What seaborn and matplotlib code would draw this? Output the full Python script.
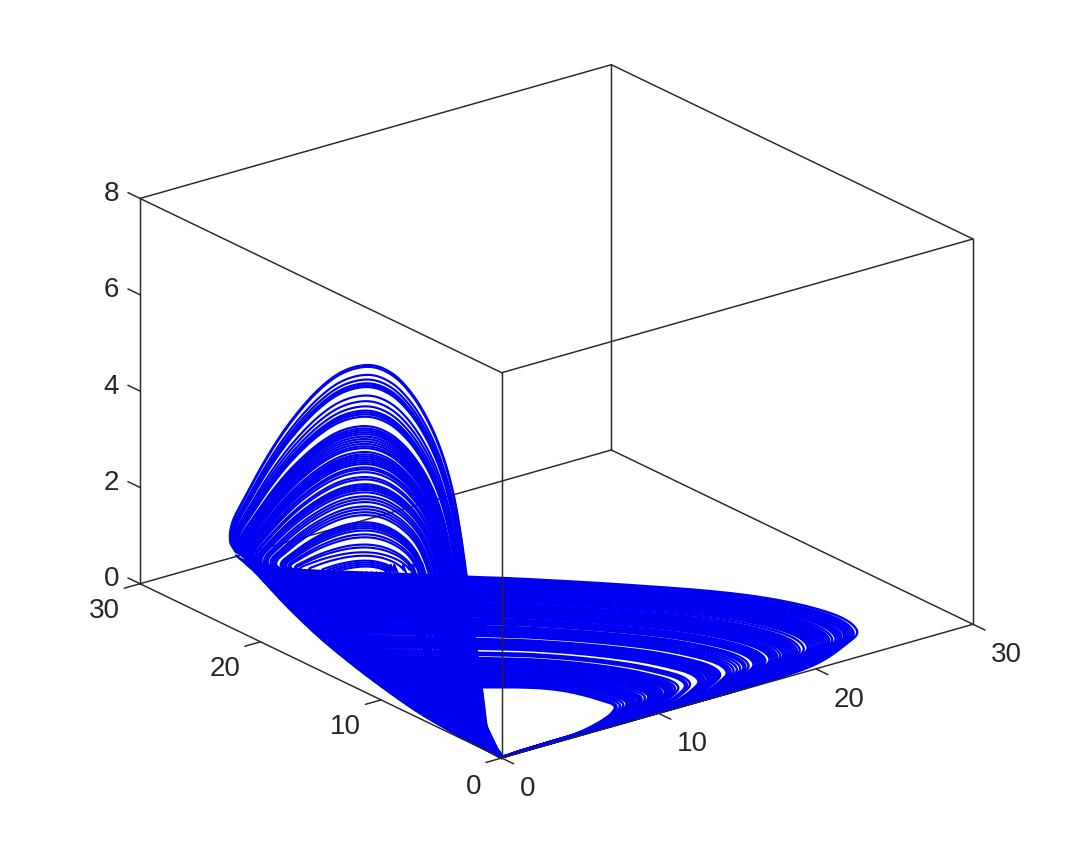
import numpy as np
import matplotlib
matplotlib.use("Agg")
import matplotlib.pyplot as plt
from matplotlib.transforms import ScaledTranslation
import seaborn as sns
from mpl_toolkits.mplot3d import proj3d

# ---- tick labels -------------------------------------------------------
x_ticks = [0, 10, 20, 30]
y_ticks = [0, 10, 20, 30]
z_ticks = [0, 2, 4, 6, 8]

# ---- orbit families -----------------------------------------------------
# peak height of every visible arch over the y axis
arch_peak_z = [6.84, 6.80, 6.63, 6.53, 6.45, 6.41, 6.37, 6.19, 6.07, 5.96, 5.87, 5.83, 5.79, 5.74,
               5.54, 5.49, 5.45, 5.41, 5.37, 5.32, 5.27, 5.22, 5.17, 5.12, 5.08, 5.00, 4.95, 4.91,
               4.87, 4.83, 4.79, 4.75, 4.68, 4.64, 4.58, 4.48, 4.43, 4.33, 4.29, 4.25, 4.21, 4.16,
               4.08, 4.02, 3.96, 3.87, 3.81, 3.75, 3.69, 3.54, 3.50, 3.46, 3.42, 3.37, 3.29, 3.23,
               3.08, 3.02, 2.92, 2.85, 2.75, 2.71, 2.67, 2.63]
# normalised arch outline read from the outermost arch
arch_u = [0, .03, .061, .104, .16, .234, .32, .42, .537, .649, .766, .866, .952, 1.013, 1.026, 1.0]
arch_v = [0, .235, .42, .59, .74, .875, .968, 1, .955, .845, .675, .49, .30, .157, .057, 0]
# arch feet against peak height
foot_peak = [2.60, 2.92, 4.2, 5.5, 6.84]
foot_left_y = [13.17, 16.49, 19.64, 21.3, 22.04]
foot_right_y = [9.69, 7.37, 5.14, 3.89, 2.9]
# top of the band the feet stand on
band_y = [2.9, 5.14, 7.62, 9.69, 13.17, 16.49, 19.47, 21.3, 22.04]
band_z = [3.43, 3.18, 2.89, 2.68, 2.28, 1.91, 1.615, 1.6, 1.61]
# leg from a right foot down to the origin (fractions of the foot)
leg_y = [1.0, .57, .43, .29, .06, 0]
leg_z = [1.0, .37, .15, .067, .03, 0]
# lower edge of the left band
edge_y = [0, 1.24, 4.06, 6.8, 9.5, 12.3, 15.1, 17.8, 20.6, 22.04]
edge_z = [0, .01, .04, .11, .25, .44, .68, 1.0, 1.41, 1.55]
return_y = [3.0, 3.7, 4.4, 5.1, 5.8, 6.5, 7.2, 7.9, 8.6, 9.3, 10.0, 10.7, 11.4, 12.1, 12.8,
            13.5, 14.2, 14.9, 15.6, 16.3, 17.0, 17.7, 18.4, 19.1, 19.8, 20.5, 21.2, 21.9]
# band points reached by the straight rise out of the origin
fan_y = [7.2, 7.6, 8.0, 8.4, 8.8, 9.2, 9.6, 10.0, 10.4,
         10.8, 11.2, 11.6, 12.0, 12.4, 12.8, 13.2, 13.6, 14.0, 14.4, 14.8, 15.2, 15.6, 16.0, 16.4, 16.8,
         17.2, 17.6, 18.0, 18.4, 18.8, 19.2, 19.6, 20.0, 20.4, 20.8, 21.2, 21.6]
# outer and inner lobe of the x-y loop
lobe_out_x = [0, 1.26, 3.66, 9.23, 12.88, 15.64, 19.18, 22.55, 24.42, 25.27, 24.83, 23.35, 20.16, 15.84, 11.52, 7.16, 3.05, 1.05, 0]
lobe_out_y = [21.7, 21.11, 21.24, 20.46, 19.65, 18.86, 15.17, 11.26, 8.15, 5.12, 2.89, 1.80, .46, .1, .1, .1, .1, .1, .1]
lobe_out_z = [1.49, 1.3, 1.0, .5, .2, 0, 0, 0, 0, 0, 0, 0, 0, 0, 0, 0, 0, 0, 0]
lobe_in_x = [0, 1.70, 3.39, 5.08, 6.21, 7.33, 8.09, 8.56, 8.80, 8.91, 8.70, 7.92, 6.93, 5.66, 4.56, 3.46, 2.40, 1.31, .1]
lobe_in_y = [9.28, 9.0, 8.72, 8.27, 7.41, 6.39, 5.31, 4.10, 3.07, 2.48, 1.95, 1.35, .90, .49, .30, .28, .23, .2, .05]
lobe_in_z = [.30, .2, .1, 0, 0, 0, 0, 0, 0, 0, 0, 0, 0, 0, 0, 0, 0, 0, 0]
# x reached at the tip of every visible lobe
lobe_tip_x = [8.78, 8.89, 9.11, 9.33, 9.55, 9.68, 9.81, 9.94, 10.07, 10.22, 10.34, 10.44, 10.55, 10.77,
              10.99, 11.12, 11.25, 11.38, 11.51, 11.64, 11.77, 11.9, 12.09, 12.22, 12.35, 12.48, 12.6,
              12.76, 12.98, 13.42, 13.55, 13.75, 14.31, 14.44, 14.57, 14.7, 14.86, 14.97, 15.1, 15.23,
              15.36, 15.49, 15.62, 15.74, 16.18, 16.31, 16.44, 16.63, 16.85, 17.07, 17.29, 17.42, 17.62,
              17.95, 18.08, 18.21, 18.34, 18.47, 18.6, 18.73, 19.01, 19.14, 19.27, 19.4, 19.53, 19.72,
              19.9, 20.03, 20.16, 20.29, 20.42, 20.55, 20.68, 20.82, 21.0, 21.27, 21.53, 21.66, 21.79,
              21.92, 22.05, 22.18, 22.31, 22.44, 22.57, 22.7, 22.83, 22.96, 23.15, 23.37, 23.5, 23.63,
              23.76, 23.93, 24.04, 24.17, 24.3, 24.43, 24.56, 24.8]

BLUE = "#0000f0"
DARK = "#262626"
LW = 1.55
LOBE_LW = 1.7


def smooth(*cols, n=12):
    """Catmull-Rom pass through the read points, so the outline has no facets."""
    p = np.column_stack(cols)
    p = np.vstack([2 * p[0] - p[1], p, 2 * p[-1] - p[-2]])
    t = np.linspace(0, 1, n, endpoint=False)[:, None]
    out = []
    for i in range(1, len(p) - 2):
        a, b, c, d = p[i - 1], p[i], p[i + 1], p[i + 2]
        out.append(.5 * (2 * b + (c - a) * t + (2 * a - 5 * b + 4 * c - d) * t ** 2 + (3 * b - a - 3 * c + d) * t ** 3))
    out.append(p[-2][None])
    return np.vstack(out).T


sns.set_theme(style="white")
plt.rcParams["font.family"] = ["Liberation Sans", "DejaVu Sans"]
fig = plt.figure(figsize=(10.75, 8.53), dpi=100)
ax = fig.add_axes([0.1, 0.1, 0.8, 0.8], projection="3d", proj_type="ortho", computed_zorder=False)
ax.set_box_aspect((1, 1, .698))
ax.view_init(elev=21.7, azim=-127.5)
ax.set_xlim(0, 30, view_margin=0)
ax.set_ylim(0, 30, view_margin=0)
ax.set_zlim(0, 8, view_margin=0)
ax.grid(False)
for axis in (ax.xaxis, ax.yaxis, ax.zaxis):
    axis.set_pane_color((1, 1, 1, 0))
    axis.pane.set_edgecolor((1, 1, 1, 0))
    axis.line.set_color((1, 1, 1, 0))
    axis._axinfo["tick"]["inward_factor"] = 0
    axis._axinfo["tick"]["outward_factor"] = 0
ax.set_xticks(x_ticks)
ax.set_yticks(y_ticks)
ax.set_zticks(z_ticks)
ax.tick_params(axis="both", labelsize=20, labelcolor=DARK, color=(1, 1, 1, 0))
ax.tick_params(axis="x", pad=12)
ax.tick_params(axis="y", pad=12)
ax.tick_params(axis="z", pad=12)


def nudge(axis, dx, dy, first=None):
    # mplot3d re-applies transData to tick labels on every draw, so the
    # shifted transform is locked onto each label
    for k, tick in enumerate(axis.get_major_ticks()):
        ox, oy = (first if (k == 0 and first) else (dx, dy))
        lab = tick.label1
        lab.set_transform(ax.transData + ScaledTranslation(ox / 100, oy / 100, fig.dpi_scale_trans))
        lab.set_transform = lambda *_: None


nudge(ax.xaxis, 12, 16, first=(5, 16))
nudge(ax.yaxis, -8, 17, first=(0, 15))
nudge(ax.zaxis, 20, 16)


def edge(a, b, z):
    ax.plot([a[0], b[0]], [a[1], b[1]], [a[2], b[2]], color=DARK, lw=1.05, zorder=z)


# box edges behind the orbit
for a, b in [((30, 30, 0), (0, 30, 0)), ((30, 30, 0), (30, 0, 0)), ((30, 30, 0), (30, 30, 8)),
             ((0, 30, 0), (0, 30, 8)), ((30, 0, 0), (30, 0, 8)), ((0, 0, 8), (30, 0, 8)), ((0, 0, 8), (0, 30, 8)),
             ((30, 30, 8), (30, 0, 8)), ((30, 30, 8), (0, 30, 8))]:
    edge(a, b, 1)

# arches over the y axis
for zp in arch_peak_z:
    yl = np.interp(zp, foot_peak, foot_left_y)
    yr = np.interp(zp, foot_peak, foot_right_y)
    zl = np.interp(yl, band_y, band_z)
    zr = np.interp(yr, band_y, band_z)
    chord = zr + .42 * (zl - zr)
    h = max(zp - chord, .02)
    u, v = np.array(arch_u), np.array(arch_v)
    ay = yr + (yl - yr) * u
    az = zr + (zl - zr) * u + h * v
    ly = yr * np.array(leg_y[::-1][:-1])
    lz = zr * np.array(leg_z[::-1][:-1])
    yy, zz = smooth(np.r_[ly, ay], np.r_[lz, az], n=8)
    ax.plot(np.zeros_like(yy), yy, zz, color=BLUE, lw=LW, zorder=3, solid_capstyle="butt")

# straight rises out of the origin and returns along the lower edge
for y0 in fan_y:
    ax.plot([0, 0], [y0, 0], [np.interp(y0, band_y, band_z), 0], color=BLUE, lw=LW, zorder=3)
for y0 in return_y:
    ax.plot([0, 0], [y0, 0], [np.interp(y0, edge_y, edge_z), 0], color=BLUE, lw=LW, zorder=3)
ey, ez = smooth(edge_y, edge_z)
ax.plot(np.zeros_like(ey), ey, ez, color=BLUE, lw=LW, zorder=3)

# lobes of the x-y loop
o = np.array([lobe_out_x, lobe_out_y, lobe_out_z])
i_ = np.array([lobe_in_x, lobe_in_y, lobe_in_z])
for tip in lobe_tip_x:
    s = (tip - 8.78) / (24.8 - 8.78)
    c = i_ + (o - i_) * s
    c[2, 0] = np.interp(c[1, 0], edge_y, edge_z)
    lx, ly, lz = smooth(c[0], c[1], c[2], n=10)
    ax.plot(lx, ly, lz, color=BLUE, lw=LOBE_LW, zorder=3, solid_capstyle="butt")

# front edges over the orbit
edge((0, 0, 0), (0, 0, 8), 5)
edge((0, 0, 0), (30, 0, 0), 5)
edge((0, 0, 0), (0, 30, 0), 5)

# tick marks along the box edges
for v in x_ticks:
    edge((v, 0, 0), (v, -1, 0), 5)
for v in y_ticks:
    edge((0, v, 0), (-1, v, 0), 5)
for v in z_ticks:
    edge((0, 30, v), (0, 31, v), 5)

# place the box on the canvas where the reference has it
fig.canvas.draw()


def px(p):
    X, Y, _ = proj3d.proj_transform(p[0], p[1], p[2], ax.get_proj())
    return ax.transData.transform((X, Y))


left, right, front = px((0, 30, 0)), px((30, 0, 0)), px((0, 0, 0))
f = (973 - 140) / (right[0] - left[0])
pos = ax.get_position()
ax.set_position([pos.x0, pos.y0, pos.width * f, pos.height * f])
fig.canvas.draw()
left, front = px((0, 30, 0)), px((0, 0, 0))
pos = ax.get_position()
dx = (140 - left[0]) / fig.bbox.width
dy = ((853 - 759) - front[1]) / fig.bbox.height
ax.set_position([pos.x0 + dx, pos.y0 + dy, pos.width, pos.height])

fig.savefig("out.png", dpi=100, facecolor="white")
